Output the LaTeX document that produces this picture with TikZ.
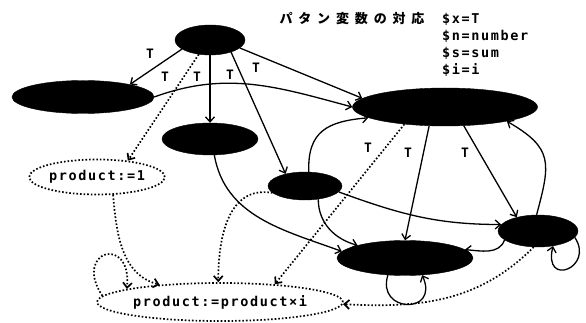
\documentclass[tikz,border=0pt]{standalone}
\usepackage{fontspec}
\usetikzlibrary{shapes.geometric,arrows.meta}
\newfontfamily\jpfont{Noto Sans CJK JP}[LetterSpace=45]
\newfontfamily\monofont{DejaVu Sans Mono}[LetterSpace=12]
\begin{document}
\begin{tikzpicture}[x=1pt,y=1pt,
  blk/.style={ellipse,fill=black,draw=black,inner sep=0pt},
  dotbox/.style={ellipse,draw=black,line width=1.7pt,dash pattern=on 1.6pt off 2pt,inner sep=0pt,
    font=\monofont\bfseries\fontsize{13.5}{14}\selectfont},
  edge/.style={line width=1.3pt,-{Straight Barb[length=5pt,width=9pt]}},
  dedge/.style={edge,line width=1.7pt,dash pattern=on 1.6pt off 2pt},
  lbl/.style={font=\monofont\bfseries\fontsize{13}{14}\selectfont,inner sep=0pt},
  var/.style={font=\monofont\bfseries\fontsize{13.5}{14}\selectfont,inner sep=0pt,anchor=base west},
]
\useasboundingbox (0,0) rectangle (586,-323);

% nodes
\node[blk,minimum width=70pt,minimum height=30pt] (A) at (210,-40) {};
\node[blk,minimum width=142pt,minimum height=33pt] (B) at (83,-97) {};
\node[blk,minimum width=96pt,minimum height=32pt] (C) at (210,-139) {};
\node[blk,minimum width=185pt,minimum height=38pt] (D) at (445,-107) {};
\node[blk,minimum width=74pt,minimum height=28pt] (E) at (305,-186) {};
\node[blk,minimum width=136pt,minimum height=35pt] (F) at (405,-258) {};
\node[blk,minimum width=80pt,minimum height=32pt] (G) at (538,-231) {};
\node[dotbox,minimum width=121pt,minimum height=35pt] (H) at (97,-177) {product:=1};
\node[dotbox,minimum width=235pt,minimum height=38pt] (I) at (220,-302) {product:=product×i};

% legend
\node[font=\jpfont\bfseries\fontsize{13}{14}\selectfont,inner sep=0pt] (J) at (352,-19) {パタン変数の対応};
\node[var] (V1) at (442,-24) {\$x=T};
\node[var] (V2) at (442,-41) {\$n=number};
\node[var] (V3) at (442,-58) {\$s=sum};
\node[var] (V4) at (442,-75) {\$i=i};

% solid edges
\draw[edge] (A.198) -- (B.15);
\draw[edge] (A.south) -- (C.north);
\draw[edge] (A.330) -- (E.148);
\draw[edge] (A.345) -- (D.174);
\draw[edge] (B.east) to[out=20,in=165] (D.west);
\draw[edge] (C.285) to[out=-80,in=160] (F.174);
\draw[edge] (E.75) to[out=92,in=185,looseness=1.3] (D.188);
\draw[edge] (E.315) to[out=-90,in=165] (F.165);
\draw[edge] (E.350) to[out=-20,in=180] (G.170);
\draw[edge] (D.230) -- (F.north);
\draw[edge] (D.315) -- (G.147);
\draw[edge] (G.95) to[out=75,in=-30,looseness=1.4] (D.347);
\draw[edge] (G.195) to[out=-110,in=-5] (F.8);
\draw[edge] (F.225) .. controls +(-12,-38) and +(18,-40) .. (F.315);
\draw[edge] (G.350) .. controls +(20,-30) and +(-10,-42) .. (G.315);

% dotted edges
\draw[dedge] (A.232) -- (H.28);
\draw[dedge] (D.203) -- (I.18);
\draw[dedge] (G.255) to[out=-135,in=-3] (I.359);
\draw[dedge] (E.192) to[out=170,in=90,looseness=1.1] (I.95);
\draw[dedge] (H.312) to[out=-85,in=165] (I.164);
\draw[dedge] (I.177) .. controls +(-30,45) and +(5,55) .. (I.172);

% labels
\node[lbl] (t1) at (150,-54) {T};
\node[lbl] (t2) at (165,-77) {T};
\node[lbl] (t3) at (197,-77) {T};
\node[lbl] (t4) at (230,-75) {T};
\node[lbl] (t5) at (256,-68) {T};
\node[lbl] (t6) at (368,-148) {T};
\node[lbl] (t7) at (408,-153) {T};
\node[lbl] (t8) at (465,-153) {T};
\end{tikzpicture}
\end{document}
